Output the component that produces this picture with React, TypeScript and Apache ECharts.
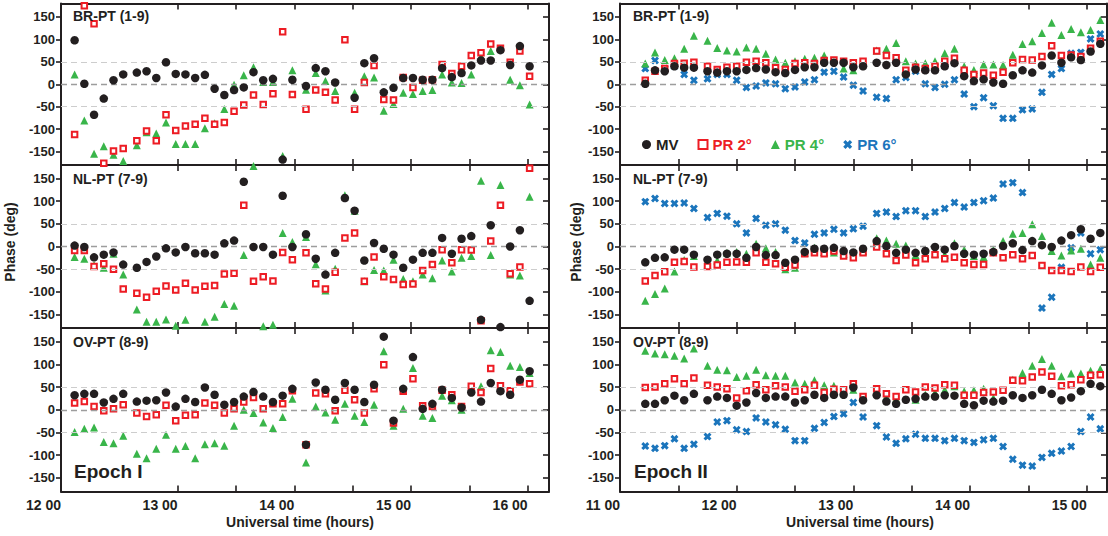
import React, { useEffect, useRef } from 'react';
import * as echarts from 'echarts';

// Observation times, minutes after the first labelled hour of each epoch
const EPOCH1_START = 720; // 12 00
const EPOCH2_START = 660; // 11 00
const timesEpoch1 = [7,12,17,22,27,32,39,44,49,54,59,64,69,74,79,84,89,94,99,104,109,114,119,126,131,136,141,146,151,156,161,166,171,176,181,186,191,196,201,206,211,216,221,226,231,236,241];
const timesEpoch2 = [13,18,23,28,33,38,45,50,55,60,65,70,75,80,85,90,95,100,105,110,115,120,125,132,137,142,147,152,157,162,167,172,177,182,187,192,197,202,207,212,217,222,227,232,237,242,247];

// Epoch I
const L1_MV = [98,1,-68,-32,9,22,26,29,14,49,23,22,14,21,-10,-24,-13,-7,27,9,12,-168,10,-4,36,29,4,null,-30,47,58,-18,-8,14,14,10,10,36,16,25,42,53,53,76,43,85,40];
const L1_PR2 = [-112,175,135,-176,-149,-143,-126,-104,-126,-68,-103,-93,-89,-76,-89,-85,-60,-46,-24,-45,-21,117,-23,-56,-13,-18,-35,99,-56,4,42,-34,-35,15,-7,9,10,44,24,40,64,70,90,80,49,74,18];
const L1_PR4 = [22,-81,-155,-138,-157,-171,-136,-107,-110,-85,-133,-133,-133,-98,-87,-55,-1,20,38,5,5,-160,31,-12,25,7,-15,null,-19,18,15,-59,-44,-19,-22,-15,-13,22,4,3,22,62,74,null,10,-2,-45];

const L2_MV = [2,-1,-24,-18,-13,-40,-47,-34,-22,-4,-13,-1,-15,-15,-18,7,13,143,-1,-1,-18,112,-1,27,-27,-62,-14,107,79,-31,8,-5,-18,-47,-29,-14,-14,19,-16,17,23,-162,47,-178,0,36,-120];
const L2_PR2 = [-9,-9,-44,-38,-50,-94,-103,-112,-99,-87,-96,-81,-96,-88,-86,-61,-59,91,-77,-67,-76,-13,-29,-14,-82,-94,-57,19,30,-77,-23,-67,-73,-84,-83,-53,-40,-7,-36,-7,-8,-164,12,91,-60,-45,173];
const L2_PR4 = [-23,-27,-41,-47,-16,-62,-139,-166,-166,-161,-175,-162,null,-166,-155,-127,-131,-19,178,-176,-173,30,10,21,-39,-97,-49,113,79,-77,-52,-53,-29,-72,-77,-62,-70,-31,-55,-25,-21,145,-19,136,-62,-64,110];

const L3_MV = [32,35,35,16,24,35,18,20,21,38,7,24,17,49,33,11,17,29,39,29,17,31,46,-77,60,44,22,59,44,17,55,161,-24,46,116,2,13,44,26,5,38,18,59,41,33,66,85];
const L3_PR2 = [15,18,7,-2,2,11,-7,-15,-11,10,-24,-12,-11,15,10,-7,2,17,27,2,13,13,42,-77,37,35,-2,43,22,-7,46,99,-29,41,68,9,7,43,33,7,52,38,91,53,42,61,57];
const L3_PR4 = [-49,-42,-39,-71,-74,-57,-97,-107,-86,-55,-86,-80,-107,-76,-74,-79,-35,0,-7,-28,-40,-16,24,-116,7,-6,-22,13,-13,-27,11,129,-35,2,92,-13,-18,31,21,0,46,52,131,127,97,94,81];

// Epoch II
const R1_MV = [1,31,29,40,37,37,29,26,29,29,32,36,33,27,25,32,38,38,48,48,48,38,40,48,43,48,22,33,31,31,40,47,18,7,11,4,1,20,31,26,42,64,48,60,54,73,90];
const R1_PR2 = [9,29,35,46,47,49,40,33,38,40,49,51,48,37,33,46,48,46,53,54,51,48,51,74,64,59,31,38,35,40,51,58,31,22,25,20,27,48,55,54,62,86,64,65,62,80,96];
const R1_PR4 = [46,71,54,58,79,108,97,81,75,73,82,79,68,55,48,51,57,59,64,null,35,31,49,75,79,92,51,46,47,51,69,79,40,32,44,44,43,66,90,96,114,137,110,123,116,121,143];
const R1_PR6 = [35,53,35,40,22,9,12,22,22,9,-7,-4,3,1,-10,-6,5,10,27,29,16,-2,-15,-29,-32,10,15,29,1,-7,0,10,-22,-50,-30,-48,-76,-76,-57,-55,-18,22,35,69,71,101,112];

const R2_MV = [-35,-25,-24,-7,-7,-18,-29,-18,-16,-16,-25,-1,-19,-19,-36,-29,-12,-5,-5,-3,-10,-13,-5,12,1,-14,-7,-14,-10,-1,-7,1,-16,-18,-16,-12,1,7,-8,12,3,-1,13,25,38,17,30];
const R2_PR2 = [-76,-64,-56,-35,-33,-45,-44,-41,-35,-34,-35,-14,-35,-38,-46,-41,-16,-14,-16,-10,-21,-25,-14,-1,-16,-31,-19,-36,-27,-18,-27,-24,-36,-40,-40,-14,-25,-18,-27,-20,-42,-53,-53,-55,-45,-55,-46];
const R2_PR4 = [-120,-105,-93,-55,-30,-21,-40,-31,-14,-12,-16,6,-4,-12,-50,-47,-14,-3,-12,-13,-16,null,-10,18,13,6,2,-19,-16,-16,-18,7,-7,-21,-23,-7,12,28,30,49,23,-10,-20,-9,-5,-40,-25];
const R2_PR6 = [99,106,95,95,96,84,64,73,67,50,30,62,47,50,36,13,8,27,30,38,30,39,45,73,76,66,79,79,66,76,84,97,87,97,101,107,138,141,119,null,-136,-112,-46,-3,30,-16,-7];

const R3_MV = [13,13,21,31,21,35,21,29,26,9,16,37,26,29,29,16,21,33,26,33,33,49,21,32,18,13,22,24,29,29,32,31,13,10,20,18,20,32,26,32,44,35,21,27,41,57,52];
const R3_PR2 = [49,50,57,68,57,70,54,50,46,26,42,55,44,53,50,41,44,54,38,45,44,57,29,46,35,29,44,39,50,48,55,54,32,32,38,39,43,65,64,72,83,74,53,55,66,76,77];
const R3_PR4 = [130,124,122,119,113,135,97,88,87,72,75,88,76,75,75,60,57,65,54,53,null,44,26,42,29,24,null,22,33,38,44,52,41,43,46,26,null,66,81,97,112,97,74,80,80,86,90];
const R3_PR6 = [-80,-85,-79,-64,-85,-76,-59,-27,-24,-44,-48,-18,-27,-33,-43,-68,-68,-41,-28,-15,-9,16,-16,-35,-60,-74,-64,-54,-63,-63,-68,-63,-68,-72,-66,-63,-81,-109,-122,-124,-105,-96,-91,-81,-48,-16,-42];

const panelLabels = ['BR-PT (1-9)', 'NL-PT (7-9)', 'OV-PT (8-9)'];
const epochLabels = ['Epoch I', 'Epoch II'];
const yTickValues = [-150, -100, -50, 0, 50, 100, 150];
const gridValues = [50, 0, -50];
const e1LabelValues = [720, 780, 840, 900, 960];
const e1TickValues = [780, 810, 840, 870, 900, 930, 960];
const e2LabelValues = [660, 720, 780, 840, 900];
const e2TickValues = [690, 720, 750, 780, 810, 840, 870, 900];
const seriesNames = ['MV', 'PR 2°', 'PR 4°', 'PR 6°'];

const INK = '#231f20';
const RED = '#ed1c24';
const GREEN = '#39b54a';
const BLUE = '#1b75bc';
const FONT = '"Liberation Sans", Arial, Helvetica, sans-serif';
const NARROW = '"Liberation Sans Narrow", "Liberation Sans", Arial, sans-serif';
const XSYM = 'path://M0,2.6L2.6,0L5,2.4L7.4,0L10,2.6L7.6,5L10,7.4L7.4,10L5,7.6L2.6,10L0,7.4L2.4,5Z';

function pairs(start: number, times: number[], vals: (number | null)[]) {
  const out: number[][] = [];
  times.forEach((t, i) => {
    const v = vals[i];
    if (v !== null && v !== undefined) out.push([start + t, v]);
  });
  return out;
}

export default function App() {
  const ref = useRef<HTMLDivElement>(null);
  useEffect(() => {
    document.body.style.margin = '0';
    if (!ref.current) return;
    const chart = echarts.init(ref.current, undefined, { renderer: 'svg' });

    const colLeft = [61, 620];
    const colWidth = [488, 487];
    const rowTop = [3.5, 165, 328];
    const rowHeight = [161.5, 163, 163.5];
    const ranges = [[720, 970.97], [660, 910.45]];

    const grids: any[] = [];
    const xAxes: any[] = [];
    const yAxes: any[] = [];
    const series: any[] = [];

    const epochData = [
      {
        start: EPOCH1_START, times: timesEpoch1,
        rows: [[L1_MV, L1_PR2, L1_PR4, null], [L2_MV, L2_PR2, L2_PR4, null], [L3_MV, L3_PR2, L3_PR4, null]],
        labels: e1LabelValues, ticks: e1TickValues,
      },
      {
        start: EPOCH2_START, times: timesEpoch2,
        rows: [[R1_MV, R1_PR2, R1_PR4, R1_PR6], [R2_MV, R2_PR2, R2_PR4, R2_PR6], [R3_MV, R3_PR2, R3_PR4, R3_PR6]],
        labels: e2LabelValues, ticks: e2TickValues,
      },
    ];

    const axisLine = { show: true, onZero: false, lineStyle: { color: INK, width: 2 } };

    epochData.forEach((ep, c) => {
      for (let r = 0; r < 3; r++) {
        const g = grids.length;
        grids.push({ left: colLeft[c], top: rowTop[r], width: colWidth[c], height: rowHeight[r], containLabel: false });
        const [xmin, xmax] = ranges[c];
        xAxes.push({
          type: 'value', gridIndex: g, position: 'bottom', min: xmin, max: xmax,
          axisLine,
          axisTick: { show: true, inside: true, length: 6, customValues: ep.ticks, lineStyle: { color: INK, width: 1.6 } },
          axisLabel: {
            show: r === 2, customValues: ep.labels, margin: 6, align: 'right',
            formatter: (v: number) => `${Math.floor(v / 60)} 00`,
            fontFamily: NARROW, fontWeight: 'bold', fontSize: 14, color: INK,
          },
          splitLine: { show: false },
        });
        xAxes.push({
          type: 'value', gridIndex: g, position: 'top', min: xmin, max: xmax,
          axisLine,
          axisTick: { show: true, inside: true, length: 6, customValues: ep.ticks, lineStyle: { color: INK, width: 1.6 } },
          axisLabel: { show: false },
          splitLine: { show: false },
        });
        yAxes.push({
          type: 'value', gridIndex: g, position: 'left', min: -180, max: 180,
          axisLine,
          axisTick: { show: true, inside: false, length: 5, customValues: yTickValues, lineStyle: { color: INK, width: 1.6 } },
          axisLabel: {
            show: true, customValues: yTickValues, margin: 6,
            fontFamily: FONT, fontWeight: 'bold', fontSize: 13, color: INK,
          },
          splitLine: { show: false },
        });
        yAxes.push({
          type: 'value', gridIndex: g, position: 'right', min: -180, max: 180,
          axisLine,
          axisTick: { show: true, inside: true, length: 6, customValues: yTickValues, lineStyle: { color: INK, width: 1.6 } },
          axisLabel: { show: false },
          splitLine: { show: false },
        });
        const xi = 2 * g;
        const yi = 2 * g;
        // reference dashed lines
        series.push({
          type: 'scatter', name: 'grid' + g, xAxisIndex: xi, yAxisIndex: yi, data: [], z: 1, silent: true,
          markLine: {
            silent: true, symbol: ['none', 'none'], label: { show: false },
            lineStyle: { type: [6, 4], width: 1 },
            data: gridValues.map((v) => ({
              yAxis: v,
              lineStyle: { color: v === 0 ? '#9d9d9d' : '#cdcdcd', width: v === 0 ? 1.3 : 1, type: [6, 4] },
            })),
          },
        });
        const [mv, p2, p4, p6] = ep.rows[r] as any[];
        if (p6) {
          series.push({
            type: 'scatter', name: seriesNames[3], xAxisIndex: xi, yAxisIndex: yi, z: 2,
            symbol: XSYM, symbolSize: 8, itemStyle: { color: BLUE, opacity: 1 },
            data: pairs(ep.start, ep.times, p6),
          });
        }
        series.push({
          type: 'scatter', name: seriesNames[2], xAxisIndex: xi, yAxisIndex: yi, z: 3,
          symbol: 'triangle', symbolSize: 8, itemStyle: { color: GREEN, opacity: 1 },
          data: pairs(ep.start, ep.times, p4),
        });
        series.push({
          type: 'scatter', name: seriesNames[1], xAxisIndex: xi, yAxisIndex: yi, z: 4,
          symbol: 'rect', symbolSize: 5.5, itemStyle: { color: '#ffffff', borderColor: RED, borderWidth: 2, opacity: 1 },
          data: pairs(ep.start, ep.times, p2),
        });
        series.push({
          type: 'scatter', name: seriesNames[0], xAxisIndex: xi, yAxisIndex: yi, z: 5,
          symbol: 'circle', symbolSize: 8.5, itemStyle: { color: INK, opacity: 1 },
          data: pairs(ep.start, ep.times, mv),
        });
      }
    });

    const labelCenters = [15.5, 178.5, 341.5];
    const graphic: any[] = [];
    [73, 633].forEach((x) => {
      panelLabels.forEach((t, r) => {
        graphic.push({
          type: 'text', x, y: labelCenters[r], z: 10,
          style: { text: t, fill: INK, font: `bold 14px ${FONT}`, align: 'left', verticalAlign: 'middle' },
        });
      });
    });
    epochLabels.forEach((t, c) => {
      graphic.push({
        type: 'text', x: c === 0 ? 74 : 634, y: 471, z: 10,
        style: { text: t, fill: INK, font: `bold 19px ${FONT}`, align: 'left', verticalAlign: 'middle' },
      });
    });
    [300, 860].forEach((x) => {
      graphic.push({
        type: 'text', x, y: 522,
        style: { text: 'Universal time (hours)', fill: INK, font: `bold 14px ${FONT}`, align: 'center', verticalAlign: 'middle' },
      });
    });
    [10, 576].forEach((x) => {
      graphic.push({
        type: 'text', x, y: 242, rotation: Math.PI / 2,
        style: { text: 'Phase (deg)', fill: INK, font: `bold 14px ${FONT}`, align: 'center', verticalAlign: 'middle' },
      });
    });

    chart.setOption({
      animation: false,
      backgroundColor: '#ffffff',
      grid: grids,
      xAxis: xAxes,
      yAxis: yAxes,
      series,
      graphic,
      legend: {
        left: 637, top: 132, itemWidth: 9, itemHeight: 9, itemGap: 19, selectedMode: false,
        textStyle: { fontFamily: FONT, fontSize: 15, fontWeight: 'bold' },
        data: [
          { name: 'MV', icon: 'circle', itemStyle: { color: INK, opacity: 1 }, textStyle: { color: INK } },
          { name: 'PR 2°', icon: 'rect', itemStyle: { color: '#ffffff', borderColor: RED, borderWidth: 2, opacity: 1 }, textStyle: { color: RED } },
          { name: 'PR 4°', icon: 'triangle', itemStyle: { color: GREEN, opacity: 1 }, textStyle: { color: GREEN } },
          { name: 'PR 6°', icon: XSYM, itemStyle: { color: BLUE, opacity: 1 }, textStyle: { color: BLUE } },
        ],
      },
    });
    return () => chart.dispose();
  }, []);
  return <div ref={ref} style={{ width: 1108, height: 536 }} />;
}
